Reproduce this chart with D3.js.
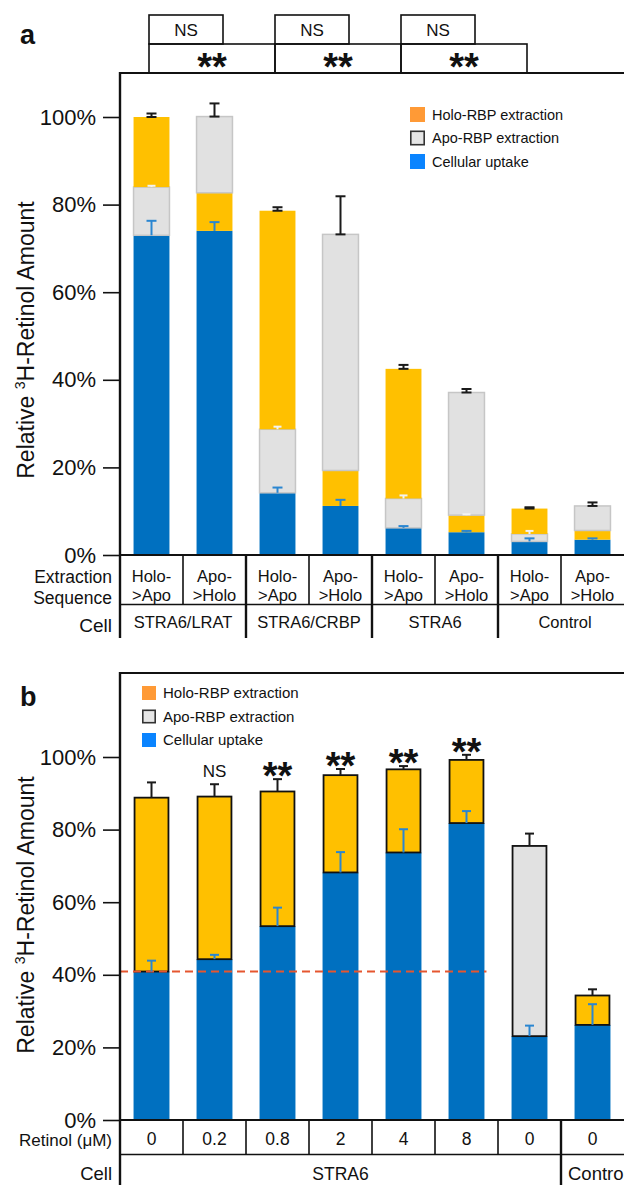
<!DOCTYPE html>
<html><head><meta charset="utf-8">
<script src="https://cdn.jsdelivr.net/npm/d3@7"></script>
<style>
body{margin:0;background:#fff}
svg{display:block}
text{font-family:"Liberation Sans",Arial,Helvetica,sans-serif;fill:#111}
</style>
</head><body>
<svg id="c" width="624" height="1185"></svg>
<script>
// ---------------- DATA ----------------
// Panel a
const extractionSeq = ["Holo->Apo","Apo->Holo","Holo->Apo","Apo->Holo","Holo->Apo","Apo->Holo","Holo->Apo","Apo->Holo"];
const cellGroupsA = ["STRA6/LRAT","STRA6/CRBP","STRA6","Control"];
const uptakeA    = [73.0, 74.0, 14.2, 11.2, 6.2, 5.2, 3.1, 3.5];
const apoA       = [11.0, 17.4, 14.5, 53.9, 6.7, 28.0, 1.7, 5.6];
const holoA      = [16.0,  8.7, 49.9,  8.1, 29.6, 3.9, 5.8, 2.1];
const uptakeErrA = [3.3, 2.0, 1.2, 1.4, 0.4, 0.3, 0.7, 0.3];
const midErrA    = [0.3, 0, 0.6, 0, 0.7, 0.2, 0.7, 0];
const totalErrA  = [0.8, 3.0, 0.8, 8.7, 0.9, 0.8, 0.3, 0.8];
const topSigA    = ["NS","NS","NS"];
const groupSigA  = ["**","**","**"];
const yTicks     = [0, 20, 40, 60, 80, 100];
const legendLabels = ["Holo-RBP extraction","Apo-RBP extraction","Cellular uptake"];

// Panel b
const retinolB   = ["0","0.2","0.8","2","4","8","0","0"];
const cellGroupsB = [{name:"STRA6", n:7},{name:"Control", n:1}];
const uptakeB    = [40.9, 44.3, 53.4, 68.2, 73.7, 81.8, 23.1, 26.2];
const holoB      = [47.9, 44.8, 37.1, 26.8, 22.9, 17.4, 0, 8.1];
const apoB       = [0, 0, 0, 0, 0, 0, 52.4, 0];
const uptakeErrB = [3.0, 1.2, 5.1, 5.6, 6.4, 3.3, 2.9, 5.7];
const totalErrB  = [4.2, 3.4, 3.4, 1.7, 0.9, 1.4, 3.4, 1.7];
const sigB       = ["", "NS", "**", "**", "**", "**", "", ""];

// ---------------- STYLE ----------------
const C = {yellow:"#FFC000", blue:"#0070C0", grey:"#E1E1E1", greyStroke:"#C6C6C6",
           legOrange:"#FF9A36", legBlue:"#0A84FF", legGrey:"#E6E6E6",
           errBlue:"#2A86D1", errMid:"#F3F3F3", ink:"#111", red:"#E5562F"};
const FONT = '"Liberation Sans",Arial,Helvetica,sans-serif';
const svg = d3.select("#c");

const x = d3.scaleBand().domain(d3.range(8)).range([120, 624]).paddingInner(0.43).paddingOuter(0.215);
const step = x.step();
const bnd = i => 120 + i * step;
const cx = i => x(i) + x.bandwidth() / 2;

function line(g, x1, y1, x2, y2, w, col) {
  g.append("line").attr("x1", x1).attr("y1", y1).attr("x2", x2).attr("y2", y2)
    .attr("stroke", col || C.ink).attr("stroke-width", w);
}
function err(g, xc, y0, y1, col, bottomCap, capW) {
  capW = capW || 10;
  line(g, xc, y0, xc, y1, 2, col);
  line(g, xc - capW/2, y1, xc + capW/2, y1, 2, col);
  if (bottomCap) line(g, xc - capW/2, y0, xc + capW/2, y0, 2, col);
}
function txt(g, s, xx, yy, size, anchor, weight) {
  return g.append("text").attr("x", xx).attr("y", yy).attr("font-size", size)
    .attr("text-anchor", anchor || "middle").attr("font-weight", weight || "normal").text(s);
}
function yTitle(g, cy) {
  const t = g.append("text").attr("transform", `translate(34,${cy}) rotate(-90)`)
    .attr("text-anchor", "middle").attr("font-size", 23);
  t.append("tspan").text("Relative ");
  t.append("tspan").attr("font-size", 14).attr("dy", -9).text("3");
  t.append("tspan").attr("dy", 9).text("H-Retinol Amount");
}
function legend(g, x0, y0, dy, sq, fs) {
  const cols = [C.legOrange, C.legGrey, C.legBlue];
  legendLabels.forEach((l, i) => {
    const r = g.append("rect").attr("x", x0).attr("y", y0 + i*dy).attr("width", sq).attr("height", sq).attr("fill", cols[i]);
    if (i === 1) r.attr("stroke", "#333").attr("stroke-width", 1.6).attr("x", x0 + 0.8).attr("y", y0 + i*dy + 0.8).attr("width", sq - 1.6).attr("height", sq - 1.6);
    txt(g, l, x0 + sq + 7, y0 + i*dy + sq/2 + 5.2, fs, "start").attr("fill", "#222");
  });
}

// ================= PANEL A =================
const gA = svg.append("g");
const yA = d3.scaleLinear().domain([0, 100]).range([555, 117]);

txt(gA, "a", 20, 44, 27, "start", "bold");

// significance boxes
topSigA.forEach((s, k) => {
  const l = bnd(2*k) + 29, r = bnd(2*k+1) + 40;
  gA.append("rect").attr("x", l).attr("y", 15).attr("width", r - l).attr("height", 29)
    .attr("fill", "none").attr("stroke", C.ink).attr("stroke-width", 1.6);
  txt(gA, s, (l + r)/2, 36, 17);
});
groupSigA.forEach((s, k) => {
  const l = bnd(2*k) + 29, r = bnd(2*k+2) + 29;
  gA.append("rect").attr("x", l).attr("y", 44).attr("width", r - l).attr("height", 29)
    .attr("fill", "none").attr("stroke", C.ink).attr("stroke-width", 1.6);
  txt(gA, s, (l + r)/2, 80, 38, "middle", "bold");
});

// bars
const segsA = d3.range(8).map(i => {
  const order = extractionSeq[i] === "Holo->Apo"
    ? [["u", uptakeA[i]], ["a", apoA[i]], ["h", holoA[i]]]
    : [["u", uptakeA[i]], ["h", holoA[i]], ["a", apoA[i]]];
  let acc = 0;
  return order.map(([k, v]) => { const s = {i, k, y0: acc, y1: acc + v}; acc += v; return s; });
});
const colOf = k => k === "u" ? C.blue : k === "h" ? C.yellow : C.grey;
gA.selectAll("rect.bar").data(segsA.flat()).enter().append("rect")
  .attr("x", d => x(d.i)).attr("width", x.bandwidth())
  .attr("y", d => yA(d.y1)).attr("height", d => yA(d.y0) - yA(d.y1))
  .attr("fill", d => colOf(d.k))
  .attr("stroke", d => d.k === "a" ? C.greyStroke : "none").attr("stroke-width", 1.5);

segsA.forEach((s, i) => {
  const c = cx(i);
  err(gA, c, yA(s[0].y1), yA(s[0].y1 + uptakeErrA[i]), C.errBlue, false, 10);
  if (midErrA[i] > 0) err(gA, c, yA(s[1].y1), yA(s[1].y1 + midErrA[i]), C.errMid, false, 8);
  err(gA, c, yA(s[2].y1), yA(s[2].y1 + totalErrA[i]), "#1a1a1a", true, 10);
});

// y axis
const axA = gA.append("g").attr("transform", "translate(120,0)")
  .call(d3.axisLeft(yA).tickValues(yTicks).tickFormat(d => d + "%").tickSize(17).tickPadding(7));
axA.select(".domain").remove();
axA.selectAll(".tick line").attr("stroke", C.ink).attr("stroke-width", 1.6);
axA.selectAll(".tick text").attr("font-size", 22).attr("font-family", FONT).attr("fill", C.ink);
yTitle(gA, 340);

// frame
line(gA, 120, 73, 624, 73, 2.2);
line(gA, 120, 72, 120, 638, 2.4);
line(gA, 120, 555, 624, 555, 2.2);
line(gA, 120, 604.5, 624, 604.5, 1.6);
d3.range(1, 8).forEach(i => {
  const grp = i % 2 === 0;
  line(gA, bnd(i), 555, bnd(i), grp ? 638 : 604.5, grp ? 2.4 : 1.6);
});

// table text
txt(gA, "Extraction", 112, 583, 17.5, "end");
txt(gA, "Sequence", 112, 604, 17.5, "end");
txt(gA, "Cell", 112, 632, 19, "end");
extractionSeq.forEach((s, i) => {
  const [a, b] = s.split("->");
  txt(gA, a + "-", cx(i), 582, 16.5);
  txt(gA, ">" + b, cx(i), 601, 16.5);
});
cellGroupsA.forEach((s, k) => {
  const c = k === 3 ? (bnd(6) + 624) / 2 + 4 : (bnd(2*k) + bnd(2*k+2)) / 2;
  txt(gA, s, c, 628, 16.5);
});

legend(gA, 410, 107, 23.5, 15, 14.5);

// ================= PANEL B =================
const gB = svg.append("g");
const yB = d3.scaleLinear().domain([0, 100]).range([1120, 757]);

txt(gB, "b", 20, 706, 27, "start", "bold");

const segsB = d3.range(8).map(i => {
  const topK = apoB[i] > 0 ? "a" : "h";
  const topV = apoB[i] > 0 ? apoB[i] : holoB[i];
  return [{i, k: "u", y0: 0, y1: uptakeB[i]}, {i, k: topK, y0: uptakeB[i], y1: uptakeB[i] + topV}];
});
gB.selectAll("rect.u").data(segsB.map(s => s[0])).enter().append("rect")
  .attr("x", d => x(d.i)).attr("width", x.bandwidth())
  .attr("y", d => yB(d.y1)).attr("height", d => yB(d.y0) - yB(d.y1))
  .attr("fill", C.blue);
gB.selectAll("rect.t").data(segsB.map(s => s[1])).enter().append("rect")
  .attr("x", d => x(d.i) + 1).attr("width", x.bandwidth() - 2)
  .attr("y", d => yB(d.y1)).attr("height", d => yB(d.y0) - yB(d.y1))
  .attr("fill", d => colOf(d.k)).attr("stroke", C.ink).attr("stroke-width", 1.8);

// baseline dashed line
gB.append("line").attr("x1", 120).attr("x2", x(5) + x.bandwidth() + 2)
  .attr("y1", yB(uptakeB[0])).attr("y2", yB(uptakeB[0]))
  .attr("stroke", C.red).attr("stroke-width", 2).attr("stroke-dasharray", "8,5");

segsB.forEach((s, i) => {
  const c = cx(i);
  err(gB, c, yB(s[0].y1), yB(s[0].y1 + uptakeErrB[i]), C.errBlue, false, 9);
  err(gB, c, yB(s[1].y1), yB(s[1].y1 + totalErrB[i]), "#1a1a1a", false, 9);
  const yt = yB(s[1].y1 + totalErrB[i]);
  if (sigB[i] === "NS") txt(gB, "NS", c, yt - 7, 17);
  else if (sigB[i] === "**") txt(gB, "**", c, yt + 10, 38, "middle", "bold");
});

const axB = gB.append("g").attr("transform", "translate(120,0)")
  .call(d3.axisLeft(yB).tickValues(yTicks).tickFormat(d => d + "%").tickSize(17).tickPadding(7));
axB.select(".domain").remove();
axB.selectAll(".tick line").attr("stroke", C.ink).attr("stroke-width", 1.6);
axB.selectAll(".tick text").attr("font-size", 22).attr("font-family", FONT).attr("fill", C.ink);
yTitle(gB, 915);

line(gB, 120, 673, 624, 673, 2.2);
line(gB, 120, 672, 120, 1185, 2.4);
line(gB, 120, 1120, 624, 1120, 2.2);
line(gB, 120, 1154.5, 624, 1154.5, 1.6);
d3.range(1, 8).forEach(i => {
  const grp = i === 7;
  line(gB, bnd(i), 1120, bnd(i), grp ? 1185 : 1154.5, grp ? 2.4 : 1.6);
});

txt(gB, "Retinol (\u03bcM)", 112, 1146, 17, "end");
txt(gB, "Cell", 112, 1180, 18.5, "end");
retinolB.forEach((s, i) => txt(gB, s, cx(i), 1145, 17.5));
let col0 = 0;
cellGroupsB.forEach(gr => {
  if (gr.n > 1) txt(gB, gr.name, (bnd(col0) + bnd(col0 + gr.n)) / 2, 1180, 17.5);
  else txt(gB, gr.name, bnd(col0) + 7, 1180, 18.5, "start");
  col0 += gr.n;
});

legend(gB, 142, 686, 23.5, 14, 15);
</script>
</body></html>
